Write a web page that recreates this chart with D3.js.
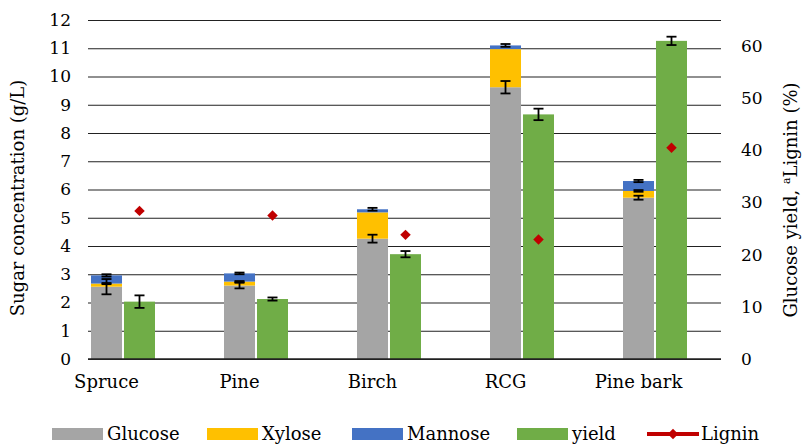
<!DOCTYPE html>
<html><head><meta charset="utf-8">
<script src="https://cdn.jsdelivr.net/npm/d3@7"></script>
<style>
html,body{margin:0;padding:0;background:#fff;}
text{font-family:"DejaVu Serif","Liberation Serif",serif;fill:#000;}
</style></head>
<body><svg id="c" width="806" height="446"></svg>
<script>
const categories = ["Spruce","Pine","Birch","RCG","Pine bark"];
const glucose    = [2.56, 2.60, 4.26, 9.62, 5.71];
const glucoseErr = [0.27, 0.10, 0.14, 0.22, 0.07];
const xylose     = [0.11, 0.14, 0.93, 1.35, 0.24];
const xyloseErr  = [0.02, 0.02, 0.00, 0.00, 0.03];
const mannose    = [0.29, 0.29, 0.11, 0.13, 0.35];
const mannoseErr = [0.04, 0.03, 0.05, 0.05, 0.04];
const yieldVals  = [11.0, 11.5, 20.1, 46.9, 61.0];
const yieldErr   = [1.2, 0.3, 0.6, 1.1, 0.8];
const lignin     = [28.4, 27.5, 23.8, 22.9, 40.5];
const leftTicks  = [0,1,2,3,4,5,6,7,8,9,10,11,12];
const rightTicks = [0,10,20,30,40,50,60];

const colors = {Glucose:"#A5A5A5", Xylose:"#FFC000", Mannose:"#4472C4", yield:"#70AD47", Lignin:"#C00000"};

const svg = d3.select("#c");
const plotL = 88, plotR = 721, plotT = 20, plotB = 359;

const x = d3.scaleBand().domain(categories).range([plotL, plotL + 5*133]).paddingInner(0);
const xs = d3.scaleBand().domain(["sugar","yield"]).range([3, 67]).paddingInner(0.06);
const yL = d3.scaleLinear().domain([0,12]).range([plotB, plotT]);
const yR = d3.scaleLinear().domain([0,65]).range([plotB, plotT]);

// gridlines
const grid = svg.append("g").attr("transform",`translate(${plotL},0)`)
  .call(d3.axisLeft(yL).tickValues(leftTicks).tickSize(-(plotR-plotL)).tickFormat(""));
grid.select(".domain").remove();
grid.selectAll("line").attr("stroke","#222").attr("stroke-width",1.2);

// stacked data
const stackData = categories.map((c,i)=>({cat:c, Glucose:glucose[i], Xylose:xylose[i], Mannose:mannose[i]}));
const keys = ["Glucose","Xylose","Mannose"];
const errs = {Glucose:glucoseErr, Xylose:xyloseErr, Mannose:mannoseErr};
const series = d3.stack().keys(keys)(stackData);

const bw = xs.bandwidth();
series.forEach(s=>{
  svg.append("g").selectAll("rect").data(s).join("rect")
    .attr("x", d=>x(d.data.cat)+xs("sugar"))
    .attr("width", bw)
    .attr("y", d=>yL(d[1]))
    .attr("height", d=>yL(d[0])-yL(d[1]))
    .attr("fill", colors[s.key]);
});

// yield bars
svg.append("g").selectAll("rect").data(categories).join("rect")
  .attr("x", c=>x(c)+xs("yield"))
  .attr("width", bw)
  .attr("y", (c,i)=>yR(yieldVals[i]))
  .attr("height", (c,i)=>yR(0)-yR(yieldVals[i]))
  .attr("fill", colors.yield);

// error bars
function errBar(g, cx, yTop, yBot){
  const cap = 5;
  g.append("line").attr("x1",cx).attr("x2",cx).attr("y1",yTop).attr("y2",yBot);
  g.append("line").attr("x1",cx-cap).attr("x2",cx+cap).attr("y1",yTop).attr("y2",yTop);
  g.append("line").attr("x1",cx-cap).attr("x2",cx+cap).attr("y1",yBot).attr("y2",yBot);
}
const eg = svg.append("g").attr("stroke","#000").attr("stroke-width",1.8);
series.forEach(s=>{
  s.forEach((d,i)=>{
    const e = errs[s.key][i];
    if(e<=0) return;
    const cx = x(d.data.cat)+xs("sugar")+bw/2;
    errBar(eg, cx, yL(d[1]+e), yL(d[1]-e));
  });
});
categories.forEach((c,i)=>{
  const cx = x(c)+xs("yield")+bw/2;
  errBar(eg, cx, yR(yieldVals[i]+yieldErr[i]), yR(yieldVals[i]-yieldErr[i]));
});

// baseline
svg.append("line").attr("x1",plotL).attr("x2",plotR).attr("y1",yL(0)).attr("y2",yL(0))
  .attr("stroke","#222").attr("stroke-width",1.5);

// lignin markers
const diamond = d3.symbol().type(d3.symbolDiamond2).size(70);
svg.append("g").selectAll("path").data(categories).join("path")
  .attr("d", diamond)
  .attr("transform",(c,i)=>`translate(${x(c)+xs("yield")+bw/2},${yR(lignin[i])})`)
  .attr("fill", colors.Lignin);

// left axis
const la = svg.append("g").attr("transform",`translate(${plotL},0)`)
  .call(d3.axisLeft(yL).tickValues(leftTicks).tickSize(0).tickPadding(17));
la.select(".domain").remove();
la.selectAll("text").style("font-family","DejaVu Serif").style("font-size","17px");

// right axis
const ra = svg.append("g").attr("transform",`translate(${plotR},0)`)
  .call(d3.axisRight(yR).tickValues(rightTicks).tickSize(0).tickPadding(20));
ra.select(".domain").remove();
ra.selectAll("text").style("font-family","DejaVu Serif").style("font-size","17px");

// category labels
svg.append("g").selectAll("text").data(categories).join("text")
  .attr("x", c=>x(c)+xs("sugar")+bw/2)
  .attr("y", 388)
  .attr("text-anchor","middle")
  .style("font-size","18px")
  .text(c=>c);

// axis titles
svg.append("text").attr("transform","translate(24,198) rotate(-90)")
  .attr("text-anchor","middle").style("font-size","18px")
  .text("Sugar concentration (g/L)");
const rt = svg.append("text").attr("transform","translate(797,200) rotate(-90)")
  .attr("text-anchor","middle").style("font-size","18px");
rt.append("tspan").text("Glucose yield, ");
rt.append("tspan").attr("font-size","11px").attr("dy","-7").text("a");
rt.append("tspan").attr("dy","7").text("Lignin (%)");

// legend
const legendItems = [
  {k:"Glucose", x:52}, {k:"Xylose", x:207}, {k:"Mannose", x:352}, {k:"yield", x:517}, {k:"Lignin", x:647, line:true}
];
const lg = svg.append("g");
legendItems.forEach(it=>{
  if(it.line){
    lg.append("line").attr("x1",it.x).attr("x2",it.x+52).attr("y1",434).attr("y2",434)
      .attr("stroke",colors.Lignin).attr("stroke-width",4);
    lg.append("path").attr("d",diamond).attr("transform",`translate(${it.x+26},434)`).attr("fill",colors.Lignin);
    lg.append("text").attr("x",it.x+54).attr("y",440).style("font-size","18px").text(it.k);
  } else {
    lg.append("rect").attr("x",it.x).attr("y",428).attr("width",51).attr("height",12).attr("fill",colors[it.k]);
    lg.append("text").attr("x",it.x+55).attr("y",440).style("font-size","18px").text(it.k);
  }
});
</script></body></html>
